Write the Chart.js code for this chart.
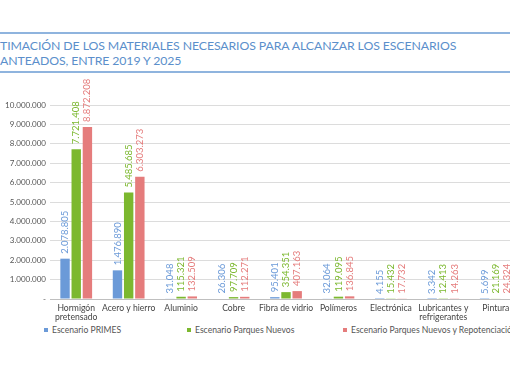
<!DOCTYPE html>
<html><head><meta charset="utf-8">
<script src="https://cdn.jsdelivr.net/npm/chart.js@4/dist/chart.umd.min.js"></script>
<style>
html,body{margin:0;padding:0;background:#fff;overflow:hidden;width:510px;height:382px;}
#wrap{position:relative;width:510px;height:382px;overflow:hidden;font-family:Lato,"Open Sans",sans-serif;}
.hl{position:absolute;left:0;width:510px;height:1.5px;background:#8fb4de;}
#title{position:absolute;left:0;top:38px;color:#5b8fcb;font-size:12.3px;line-height:15px;white-space:nowrap;letter-spacing:-0.1px;}
#cbox{position:absolute;left:0;top:74px;width:526px;height:250px;}
#legend{position:absolute;top:325px;left:0;width:560px;height:14px;font-size:8.6px;color:#555;white-space:nowrap;}
.li{position:absolute;top:0;}
.sw{display:inline-block;width:4px;height:4px;margin-right:4px;vertical-align:1px;}
</style></head>
<body><div id="wrap">
<div class="hl" style="top:32px"></div>
<div id="title">TIMACIÓN DE LOS MATERIALES NECESARIOS PARA ALCANZAR LOS ESCENARIOS<br>ANTEADOS, ENTRE 2019 Y 2025</div>
<div class="hl" style="top:71px"></div>
<div id="cbox"><canvas id="c"></canvas></div>
<div id="legend"></div>
</div>
<script>
const categories = [["Hormigón","pretensado"],"Acero y hierro","Aluminio","Cobre","Fibra de vidrio","Polímeros","Electrónica",["Lubricantes y","refrigerantes"],"Pintura"];
const seriesNames = ["Escenario PRIMES","Escenario Parques Nuevos","Escenario Parques Nuevos y Repotenciación"];
const primes = [2078805,1476890,31048,26306,95401,32064,4155,3342,5699];
const parquesNuevos = [7721408,5485685,115321,97709,354351,119095,15432,12413,21169];
const repotenciacion = [8872208,6303273,132509,112271,407163,136845,17732,14263,24324];
const yTicks = [0,1000000,2000000,3000000,4000000,5000000,6000000,7000000,8000000,9000000,10000000];
const colors = ["#6b9ad8","#7cb82f","#e57c7c"];

function fmt(v){ if(v===0) return "-"; return String(v).replace(/\B(?=(\d{3})+(?!\d))/g,"."); }

const legendPos=[44,187,343];
const lg=document.getElementById('legend');
seriesNames.forEach((n,i)=>{const d=document.createElement('div');d.className='li';d.style.left=legendPos[i]+'px';
 d.innerHTML='<span class="sw" style="background:'+colors[i]+'"></span>'+n;lg.appendChild(d);});

const labelPlugin={id:'vlabels',afterDatasetsDraw(chart){
 const ctx=chart.ctx;ctx.save();
 ctx.font='9.5px Lato, "Open Sans", sans-serif';
 chart.data.datasets.forEach((ds,di)=>{
  const meta=chart.getDatasetMeta(di);
  meta.data.forEach((bar,i)=>{
   ctx.save();ctx.translate(bar.x,bar.y-5);ctx.rotate(-Math.PI/2);
   ctx.fillStyle=colors[di];ctx.textAlign='left';ctx.textBaseline='middle';
   ctx.fillText(fmt(ds.data[i]),0,0);ctx.restore();
  });
 });
 ctx.restore();
}};

new Chart(document.getElementById('c'),{
 type:'bar',
 data:{labels:categories,datasets:[
  {label:seriesNames[0],data:primes,backgroundColor:colors[0]},
  {label:seriesNames[1],data:parquesNuevos,backgroundColor:colors[1]},
  {label:seriesNames[2],data:repotenciacion,backgroundColor:colors[2]}]},
 options:{responsive:true,maintainAspectRatio:false,animation:false,
  layout:{padding:{top:31,right:4,left:0,bottom:0}},
  plugins:{legend:{display:false},tooltip:{enabled:false}},
  datasets:{bar:{categoryPercentage:0.64,barPercentage:0.84}},
  scales:{
   x:{grid:{display:false,drawTicks:false,tickLength:0},border:{display:true,color:'#bfbfbf'},
      ticks:{color:'#444',font:{size:8.6,family:'Lato, "Open Sans", sans-serif',lineHeight:1.0},padding:5,maxRotation:0,autoSkip:false},
      afterFit(s){s.height=25;}},
   y:{min:0,max:10000000,afterBuildTicks(s){s.ticks=yTicks.map(v=>({value:v}));},
      afterFit(s){s.width=50;},
      grid:{color:'#dcdcdc',drawTicks:false},border:{display:false},
      ticks:{color:'#555',font:{size:8,family:'Lato, "Open Sans", sans-serif'},padding:4,callback:v=>fmt(v)}}
  }},
 plugins:[labelPlugin]
});
</script></body></html>
